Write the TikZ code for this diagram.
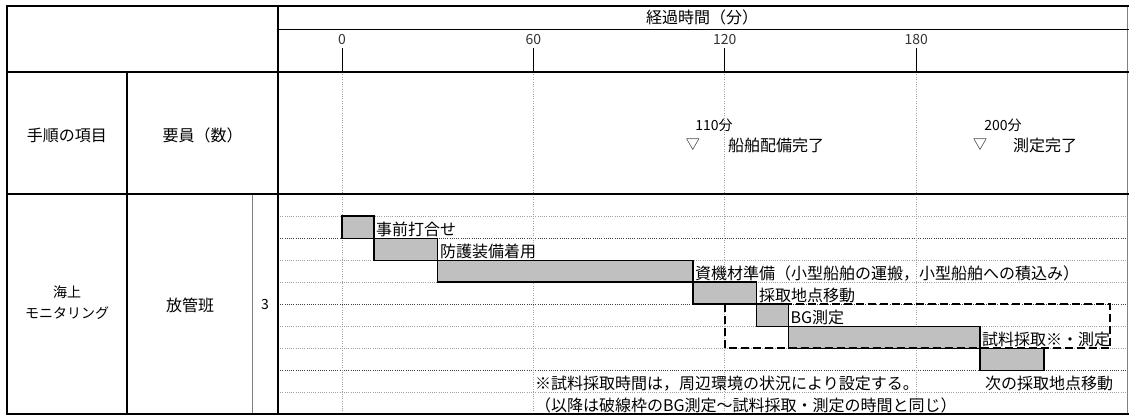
\documentclass[tikz,border=0pt]{standalone}
\usepackage{fontspec}
\setmainfont{Noto Sans CJK JP}
\definecolor{barfill}{HTML}{C0C0C0}
\definecolor{gridgray}{HTML}{A0A0A0}
\definecolor{griddark}{HTML}{404040}
\definecolor{thingray}{HTML}{808080}
\begin{document}
\begin{tikzpicture}[x=1pt,y=-1pt,
  frame/.style={line width=2pt,black},
  thinline/.style={line width=0.9pt,black},
  gridline/.style={line width=0.8pt,gridgray,dash pattern=on 0.8pt off 1.4pt},
  griddk/.style={line width=0.8pt,griddark,dash pattern=on 0.8pt off 1.4pt},
  vgrid/.style={line width=0.8pt,gridgray,dash pattern=on 0.8pt off 1.6pt},
  bar/.style={draw=black,line width=1.4pt,fill=barfill},
  dashbox/.style={draw=black,line width=1.8pt,dash pattern=on 8pt off 4pt},
  lbl/.style={anchor=base west,inner sep=0pt,font=\fontsize{16}{18}\selectfont},
  hdr/.style={inner sep=0pt,font=\fontsize{16}{18}\selectfont},
  small/.style={inner sep=0pt,font=\fontsize{14}{16}\selectfont},
  tick/.style={inner sep=0pt,font=\fontsize{14}{16}\selectfont,text=black!80}]
\useasboundingbox (0,0) rectangle (1129,416);
\fill[white] (0,0) rectangle (1129,416);

% horizontal dotted grid in body
\foreach \y in {216,260.5,282,326.2,348.3,392.7}
  \draw[gridline] (278,\y) -- (1127,\y);
\foreach \y in {238.3,304,370.5}
  \draw[griddk] (278,\y) -- (1127,\y);

% vertical dotted time lines
\foreach \x in {342,533.4,724.8,916.2}
  \draw[vgrid] (\x,72) -- (\x,414);

% tick marks and labels
\foreach \x/\t/\n in {342/0/t0,533.4/60/t60,724.8/120/t120,916.2/180/t180}{
  \draw[line width=1pt] (\x,48) -- (\x,72);
  \node[tick] (\n) at (\x,40) {\t};
}

% bars
\draw[bar] (342,216) rectangle (373.9,238.3);
\draw[bar] (373.9,238.3) rectangle (437.7,260.5);
\draw[bar] (437.7,260.5) rectangle (692.9,282);
\draw[bar] (692.9,282) rectangle (756.7,304);
\draw[bar] (756.7,304) rectangle (788.6,326.2);
\draw[bar] (788.6,326.2) rectangle (980,348.3);
\draw[bar] (980,348.3) rectangle (1043.8,370.5);

% dashed box
\draw[dashbox] (724.8,304) rectangle (1110,348.3);

% bar labels
\node[lbl] (l1) at (376,235.5) {事前打合せ};
\node[lbl] (l2) at (440,257.7) {防護装備着用};
\node[lbl] (l3) at (695,279.2) {資機材準備（小型船舶の運搬，小型船舶への積込み）};
\node[lbl] (l4) at (759,301.2) {採取地点移動};
\node[lbl] (l5) at (790.5,323.4) {BG測定};
\node[lbl] (l6) at (982,345.5) {試料採取※・測定};
\node[lbl] (l7) at (985,389.9) {次の採取地点移動};
\node[lbl] (f1) at (535,389.9) {※試料採取時間は，周辺環境の状況により設定する。};
\node[lbl] (f2) at (535,411.2) {（以降は破線枠のBG測定～試料採取・測定の時間と同じ）};

% milestones
\node[small] (m1a) at (714,125) {110分};
\node[small] (m1b) at (692.9,145) {▽};
\node[hdr,anchor=west] (m1c) at (728,145) {船舶配備完了};
\node[small] (m2a) at (1003,125) {200分};
\node[small] (m2b) at (980,145) {▽};
\node[hdr,anchor=west] (m2c) at (1013,145) {測定完了};

% header texts
\node[hdr] (title) at (702,17) {経過時間（分）};
\node[hdr] (h1) at (67,135) {手順の項目};
\node[hdr] (h2) at (202.5,135) {要員（数）};
\node[small] (c1a) at (67,292) {海上};
\node[small] (c1b) at (67,313) {モニタリング};
\node[hdr] (c2) at (190,305) {放管班};
\node[small] (c3) at (265,305) {3};

% frame lines
\draw[line width=0.9pt,thingray] (252,194) -- (252,414);
\draw[line width=0.9pt,thingray] (1127,6) -- (1127,414);
\draw[thinline] (278,29) -- (1129,29);
\draw[frame] (7,6) -- (1129,6);
\draw[frame] (7,72) -- (1129,72);
\draw[frame] (7,194) -- (1129,194);
\draw[frame] (7,414) -- (1129,414);
\draw[frame] (7,5) -- (7,415);
\draw[frame] (127,72) -- (127,415);
\draw[frame] (278,5) -- (278,415);
\end{tikzpicture}
\end{document}
